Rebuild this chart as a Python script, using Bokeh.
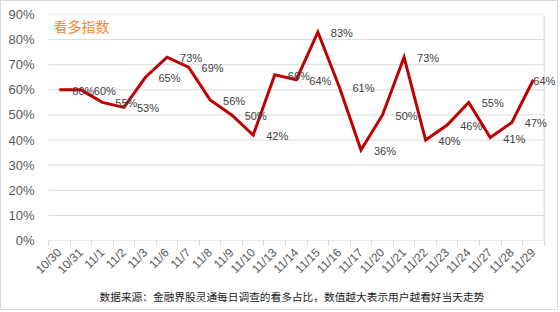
from bokeh.plotting import figure
from bokeh.models import ColumnDataSource, FixedTicker, NumeralTickFormatter, Range1d, Label, Title
from bokeh.core.properties import value
from bokeh.embed import file_html
from bokeh.resources import INLINE
import math

categories = ["10/30", "10/31", "11/1", "11/2", "11/3", "11/6", "11/7", "11/8", "11/9", "11/10",
              "11/13", "11/14", "11/15", "11/16", "11/17", "11/20", "11/21", "11/22", "11/23",
              "11/24", "11/27", "11/28", "11/29"]
values = [60, 60, 55, 53, 65, 73, 69, 56, 50, 42, 66, 64, 83, 61, 36, 50, 73, 40, 46, 55, 41, 47, 64]
y_ticks = [0, 0.1, 0.2, 0.3, 0.4, 0.5, 0.6, 0.7, 0.8, 0.9]
title_text = "看多指数"
footer_text = "数据来源：金融界股灵通每日调查的看多占比，数值越大表示用户越看好当天走势"

n = len(categories)
xs = list(range(n))
# labels sit to the right of each point; the last one is pulled back toward its point
offsets = [13 if i < n - 1 else 0 for i in xs]
src = ColumnDataSource(dict(x=xs, y=[v / 100 for v in values],
                            label=[f"{v}%" for v in values], xo=offsets))
grid_src = ColumnDataSource(dict(x0=[-0.5] * len(y_ticks), x1=[n - 0.5] * len(y_ticks), y=y_ticks))

LATIN = "Liberation Sans"
CJK = "Noto Sans CJK SC"

# frame extends a little past the last category so the last label is not clipped
p = figure(width=558, height=310, output_backend="svg", toolbar_location=None,
           x_range=Range1d(-0.5, n - 0.5 + 0.62), y_range=Range1d(0, 0.9),
           min_border_left=47, min_border_right=2, min_border_top=13, min_border_bottom=71)
p.styles = {"border": "1px solid #d9d9d9"}
p.outline_line_color = None
p.background_fill_color = "white"
p.border_fill_color = "white"

p.xgrid.grid_line_color = None
p.ygrid.grid_line_color = None

# horizontal gridlines across the category area only
p.segment(x0="x0", y0="y", x1="x1", y1="y", source=grid_src, line_color="#d9d9d9", line_width=1)
# right border of plot area
p.segment(x0=[n - 0.5], y0=[0], x1=[n - 0.5], y1=[0.9], line_color="#d9d9d9", line_width=1)

p.yaxis.ticker = FixedTicker(ticks=y_ticks)
p.yaxis.formatter = NumeralTickFormatter(format="0%")
p.yaxis.axis_line_color = None
p.yaxis.major_tick_line_color = None
p.yaxis.minor_tick_line_color = None
p.yaxis.major_label_text_color = "#595959"
p.yaxis.major_label_text_font = LATIN
p.yaxis.major_label_text_font_size = "13px"
p.yaxis.major_label_standoff = 8

boundaries = [i - 0.5 for i in range(n + 1)]
p.xaxis.ticker = FixedTicker(ticks=xs, minor_ticks=boundaries)
p.xaxis.major_label_overrides = {i: c for i, c in enumerate(categories)}
p.xaxis.major_tick_line_color = None
p.xaxis.minor_tick_line_color = "#d9d9d9"
p.xaxis.minor_tick_in = 0
p.xaxis.minor_tick_out = 5
p.xaxis.axis_line_color = None
p.xaxis.major_label_orientation = math.pi / 4
p.xaxis.major_label_text_color = "#595959"
p.xaxis.major_label_text_font = LATIN
p.xaxis.major_label_text_font_size = "12px"
p.xaxis.major_label_standoff = 4

p.line(x="x", y="y", source=src, line_color="#C00000", line_width=3, line_join="miter")
p.text(x="x", y="y", text="label", source=src, x_offset="xo", y_offset=1,
       text_align="left", text_baseline="middle", text_font=value(LATIN),
       text_font_size="11px", text_color="#404040")

p.add_layout(Label(x=-0.5, y=0.9, x_offset=5, y_offset=-11, text=title_text,
                   text_font=CJK, text_font_size="14px", text_color="#F08A36",
                   text_baseline="middle", text_align="left"))
p.add_layout(Title(text=footer_text, align="left", offset=51, standoff=4,
                   text_font=CJK, text_font_size="10.7px", text_color="#1a1a1a",
                   text_font_style="normal"), "below")

open("out.html", "w").write(file_html(p, INLINE))
